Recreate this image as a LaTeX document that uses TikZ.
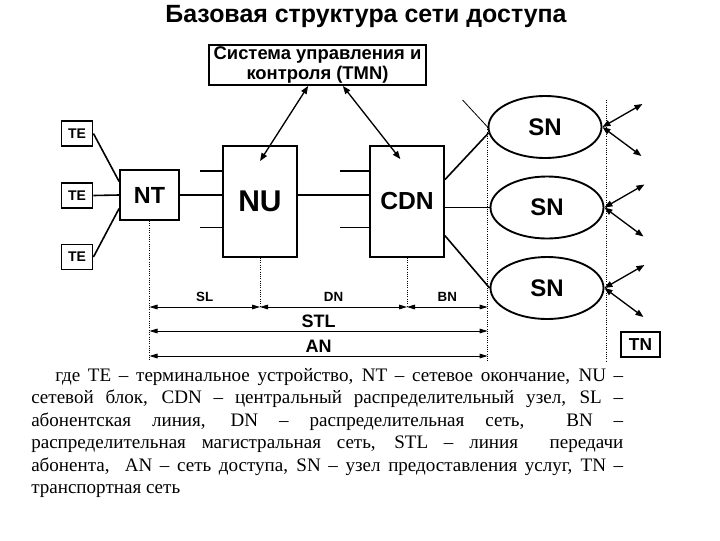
\documentclass[tikz,border=0pt]{standalone}
\usepackage{fontspec}
\setmainfont{Liberation Serif}
\setsansfont{Liberation Sans}
\usetikzlibrary{shapes,arrows.meta,positioning,calc}

\begin{document}
\begin{tikzpicture}[x=0.75pt,y=0.75pt,yscale=-1,xscale=1,
    blk/.style={draw,line width=1.4pt,inner sep=0pt,font=\sffamily\bfseries},
    snode/.style={ellipse,draw,line width=1.4pt,minimum width=84.75pt,minimum height=46.5pt,inner sep=0pt,font=\sffamily\bfseries\fontsize{18}{20}\selectfont},
    wire/.style={line width=1.2pt},
    stub/.style={line width=0.9pt},
    dblarrow/.style={line width=1pt,{Triangle[length=6pt,width=4.5pt]}-{Triangle[length=6pt,width=4.5pt]}},
    dimline/.style={line width=0.7pt,{Triangle[length=6pt,width=3.5pt]}-{Triangle[length=6pt,width=3.5pt]}},
    guide/.style={densely dotted,line width=0.7pt},
    dimlabel/.style={font=\sffamily\bfseries\fontsize{10}{11}\selectfont,inner sep=1pt},
    biglabel/.style={font=\sffamily\bfseries\fontsize{13.5}{15}\selectfont,inner sep=1pt}
  ]
    \useasboundingbox (0,0) rectangle (720,540);

    % title and management system
    \node[font=\sffamily\bfseries\fontsize{18.7}{22}\selectfont] (title) at (366,17) {Базовая структура сети доступа};
    \node[blk,minimum width=162.75pt,minimum height=30pt,align=center,font=\sffamily\bfseries\fontsize{13.8}{14.5}\selectfont] (TMN) at (317.5,65) {Система управления и\\контроля (TMN)};

    % terminals
    \foreach \i/\y in {1/133.5,2/195.5,3/257}
      \node[blk,minimum width=23.25pt,minimum height=18.75pt,font=\sffamily\bfseries\fontsize{10.5}{12}\selectfont] (TE\i) at (77,\y) {TE};

    % blocks
    \node[blk,minimum width=44.25pt,minimum height=37.5pt,font=\sffamily\bfseries\fontsize{17.5}{20}\selectfont] (NT) at (149.5,195) {NT};
    \node[blk,minimum width=55.5pt,minimum height=83.25pt,font=\sffamily\bfseries\fontsize{22.5}{26}\selectfont] (NU) at (260,201.5) {NU};
    \node[blk,minimum width=55.5pt,minimum height=83.25pt,font=\sffamily\bfseries\fontsize{18.5}{21}\selectfont] (CDN) at (407,201.5) {CDN};

    % service nodes
    \node[snode] (SN1) at (545,127) {SN};
    \node[snode] (SN2) at (547,207.5) {SN};
    \node[snode] (SN3) at (547,288) {SN};

    \node[blk,minimum width=29.25pt,minimum height=18.75pt,font=\sffamily\bfseries\fontsize{13}{15}\selectfont] (TN) at (640.5,344.5) {TN};

    % connections
    \draw[wire] (TE1.east) -- (NT.156);
    \draw[wire] (TE2.east) -- (NT.west);
    \draw[wire] (TE3.east) -- (NT.204);
    \draw[wire] (NT.east) -- (NT.east -| NU.west);
    \draw[wire] (NU.east |- NT.east) -- (CDN.west |- NT.east);
    \foreach \f in {0.23,0.73} {
      \draw[stub] ($(NU.north west)!\f!(NU.south west)$) -- ++(-22,0);
      \draw[stub] ($(CDN.north west)!\f!(CDN.south west)$) -- ++(-29,0);
    }
    \draw[wire] (CDN.30) -- (SN1.186);
    \draw[wire] (CDN.east |- SN2.west) -- (SN2.west);
    \draw[wire] (CDN.-42) -- (SN3.west);
    \draw[line width=0.6pt] (SN1.west) -- ++(-25,-27);

    \draw[dblarrow] ([xshift=-7pt]TMN.south) -- ([yshift=12pt]NU.north);
    \draw[dblarrow] ([xshift=19pt]TMN.south) -- ([xshift=-5pt,yshift=10.5pt]CDN.north);

    \foreach \s in {SN1,SN2,SN3} {
      \draw[dblarrow] (\s.east) -- ++(40,-23);
      \draw[dblarrow] (\s.east) -- ++(39,29);
    }

    % dimension guides
    \coordinate (lvlSL) at (0,307);
    \coordinate (lvlSTL) at (0,331);
    \coordinate (lvlAN) at (0,356);
    \coordinate (lvlEnd) at (0,361);
    \coordinate (tnTop) at (606,100);
    \draw[guide] (NT.south) -- (NT.south |- lvlEnd);
    \draw[guide] (NU.south) -- (NU.south |- lvlSL);
    \draw[guide] (CDN.south) -- (CDN.south |- lvlSL);
    \draw[guide] (SN1.west) -- (SN1.west |- lvlEnd);
    \draw[guide] (tnTop) -- (tnTop |- lvlEnd);

    \draw[dimline] (NT.south |- lvlSL) -- node[dimlabel,above=2.5pt] (SL) {SL} (NU.south |- lvlSL);
    \draw[dimline] (NU.south |- lvlSL) -- node[dimlabel,above=2.5pt] (DN) {DN} (CDN.south |- lvlSL);
    \draw[dimline] (CDN.south |- lvlSL) -- node[dimlabel,above=2.5pt] (BN) {BN} (SN1.west |- lvlSL);
    \draw[dimline] (NT.south |- lvlSTL) -- node[biglabel,above=1pt] (STL) {STL} (SN1.west |- lvlSTL);
    \draw[dimline] (NT.south |- lvlAN) -- node[biglabel,above=1pt] (AN) {AN} (SN1.west |- lvlAN);

    % legend
    \node[anchor=north west,text width=444pt,align=justify,inner sep=0pt,font=\fontsize{14.3}{16.9}\selectfont] (legend) at (31,368)
      {\tolerance=10000 \hyphenpenalty=10000 \hspace*{18pt}где TE – терминальное устройство, NT – сетевое окончание, NU –\linebreak
      сетевой блок, CDN – центральный распределительный узел, SL –\linebreak
      абонентская линия, DN – распределительная сеть,\ \ BN –\linebreak
      распределительная магистральная сеть, STL – линия\ \ передачи\linebreak
      абонента,\ \ AN – сеть доступа, SN – узел предоставления услуг, TN –\linebreak
      транспортная сеть\par};

\end{tikzpicture}
\end{document}
